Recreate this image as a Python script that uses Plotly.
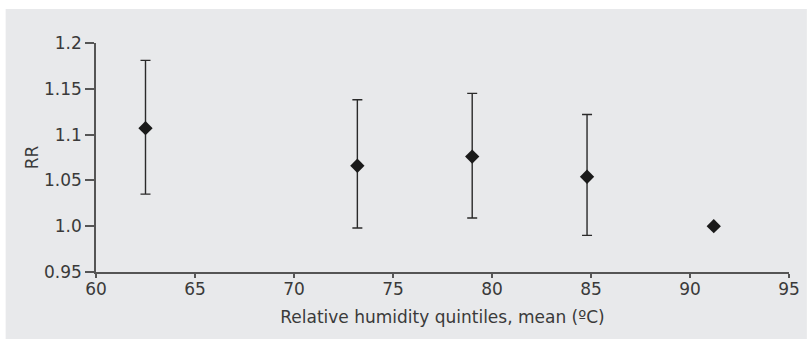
import plotly.graph_objects as go

humidity = [62.5, 73.2, 79.0, 84.8, 91.2]
rr = [1.107, 1.066, 1.076, 1.054, 1.0]
ci_upper = [1.181, 1.138, 1.145, 1.122, None]
ci_lower = [1.035, 0.998, 1.009, 0.990, None]

x_ticks = [60, 65, 70, 75, 80, 85, 90, 95]
y_ticks = [0.95, 1.0, 1.05, 1.1, 1.15, 1.2]
y_labels = ["0.95", "1.0", "1.05", "1.1", "1.15", "1.2"]

err_plus = [(u - v) if u is not None else 0 for u, v in zip(ci_upper, rr)]
err_minus = [(v - l) if l is not None else 0 for v, l in zip(rr, ci_lower)]

fig = go.Figure()
fig.add_trace(go.Scatter(
    x=humidity, y=rr, mode="markers",
    marker=dict(symbol="diamond", size=11, color="#1a1a1a"),
    error_y=dict(type="data", symmetric=False, array=err_plus, arrayminus=err_minus,
                 color="#2a2a2a", thickness=1.4, width=5, visible=True),
    showlegend=False,
))

W, H = 812, 339
L, R, T, B = 96, 18, 43, 67
pw, ph = W - L - R, H - T - B
def px(xp):
    return (xp - L) / pw
def py(yp):
    return (H - B - yp) / ph

fig.add_shape(type="rect", xref="paper", yref="paper",
              x0=px(5), x1=px(812), y0=py(339), y1=py(9),
              fillcolor="#e8e9eb", line=dict(width=0), layer="below")

font = dict(family="DejaVu Sans, Liberation Sans, sans-serif", size=17, color="#3a3a3a")

fig.update_layout(
    width=W, height=H,
    margin=dict(l=L, r=R, t=T, b=B),
    paper_bgcolor="white", plot_bgcolor="rgba(0,0,0,0)",
    font=font,
    xaxis=dict(range=[60, 95], tickvals=x_ticks, showgrid=False, zeroline=False,
               showline=True, linecolor="#555555", linewidth=1.5,
               ticks="outside", ticklen=4, tickcolor="#555555", tickwidth=1.5,
               ticklabelstandoff=-3,
               title=dict(text="Relative humidity quintiles, mean (ºC)", standoff=13,
                          font=dict(family=font["family"], size=17, color="#3a3a3a")),
               tickfont=font),
    yaxis=dict(range=[0.95, 1.2], tickvals=y_ticks, ticktext=y_labels,
               showgrid=False, zeroline=False,
               showline=True, linecolor="#555555", linewidth=1.5,
               ticks="outside", ticklen=9, tickcolor="#555555", tickwidth=1.5,
               title=dict(text="RR", standoff=1,
                          font=dict(family=font["family"], size=17, color="#3a3a3a")),
               tickfont=font),
)

fig.write_html("out.html", config={"displayModeBar": False},
               post_script="document.body.style.margin='0';")
